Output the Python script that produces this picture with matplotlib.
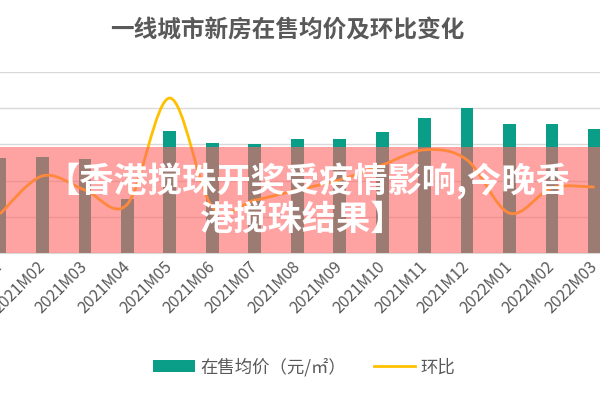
import numpy as np
import matplotlib
matplotlib.use("Agg")
import matplotlib.pyplot as plt
from matplotlib.path import Path
from matplotlib.patches import PathPatch, Rectangle, Patch
from matplotlib.lines import Line2D

plt.rcParams['font.family'] = ['Noto Sans CJK SC', 'DejaVu Sans']

# 数据
months = ['2021M01', '2021M02', '2021M03', '2021M04', '2021M05', '2021M06', '2021M07',
          '2021M08', '2021M09', '2021M10', '2021M11', '2021M12', '2022M01', '2022M02', '2022M03']
price = [55250, 55300, 55190, 53000, 56740, 56080, 56020, 56300, 56300, 56690,
         57460, 58010, 57130, 57130, 56850]
mom = [-0.92, 0.13, -0.26, -0.65, 2.28, -0.73, -0.54, -0.26, 0.02, 0.43,
       0.85, 0.57, -0.90, -0.20, -0.18]

teal = '#0a9e89'
gold = '#FFC000'
grey = '#595959'

fig = plt.figure(figsize=(6, 4), dpi=100)
ax = fig.add_axes([0, 0.3675, 1, 0.4525])
x = np.arange(len(months))

ax.bar(x, price, width=0.30, color=teal, zorder=2)
ax.set_ylim(50000, 60000)
ax.set_yticks(np.arange(50000, 60001, 2000))
ax.set_xlim(0.094, 14.13)
ax.grid(axis='y', color='#d9d9d9', lw=1, zorder=0)
for s in ['top', 'right', 'left']:
    ax.spines[s].set_visible(False)
ax.spines['bottom'].set_color('#d9d9d9')
ax.tick_params(axis='y', length=0, labelleft=False)
ax.tick_params(axis='x', length=0, pad=8)
ax.set_xticks(x)
ax.set_xticklabels(months, rotation=45, ha='right', va='center',
                   rotation_mode='anchor', fontsize=11.5, color=grey)

# 环比：平滑曲线
ax2 = ax.twinx()
ax2.set_ylim(-2, 3)
ax2.axis('off')
y = np.array(mom)
n = len(y)
verts = [(x[0], y[0])]
codes = [Path.MOVETO]
for i in range(n - 1):
    p0 = np.array([x[max(i - 1, 0)], y[max(i - 1, 0)]])
    p1 = np.array([x[i], y[i]])
    p2 = np.array([x[i + 1], y[i + 1]])
    p3 = np.array([x[min(i + 2, n - 1)], y[min(i + 2, n - 1)]])
    c1 = p1 + (p2 - p0) / 6
    c2 = p2 - (p3 - p1) / 6
    verts += [tuple(c1), tuple(c2), tuple(p2)]
    codes += [Path.CURVE4] * 3
ax2.add_patch(PathPatch(Path(verts, codes), fill=False, edgecolor=gold, lw=2, zorder=3))

fig.text(0.479, 0.925, '一线城市新房在售均价及环比变化', ha='center', va='center',
         fontsize=17, fontweight='bold', color=grey)

handles = [Patch(facecolor=teal, edgecolor='none'),
           Line2D([0], [0], color=gold, lw=2)]
fig.legend(handles, ['在售均价（元/㎡）', '环比'], loc='center', bbox_to_anchor=(0.507, 0.0825),
           ncol=2, frameon=False, fontsize=12.5, handlelength=2.4, handleheight=0.7,
           columnspacing=1.6, handletextpad=0.3, labelcolor=grey)

# 叠加的粉色横幅
fig.add_artist(Rectangle((0, 0.3675), 1, 0.265, transform=fig.transFigure,
                         facecolor='#FF6464', alpha=0.6, edgecolor='none', zorder=5))
fig.text(0.513, 0.5475, '【香港搅珠开奖受疫情影响,今晚香', ha='center', va='center',
         fontsize=24.7, fontweight='bold', color='white', zorder=6)
fig.text(0.503, 0.4525, '港搅珠结果】', ha='center', va='center',
         fontsize=24.7, fontweight='bold', color='white', zorder=6)

fig.savefig('out.png', dpi=100)
